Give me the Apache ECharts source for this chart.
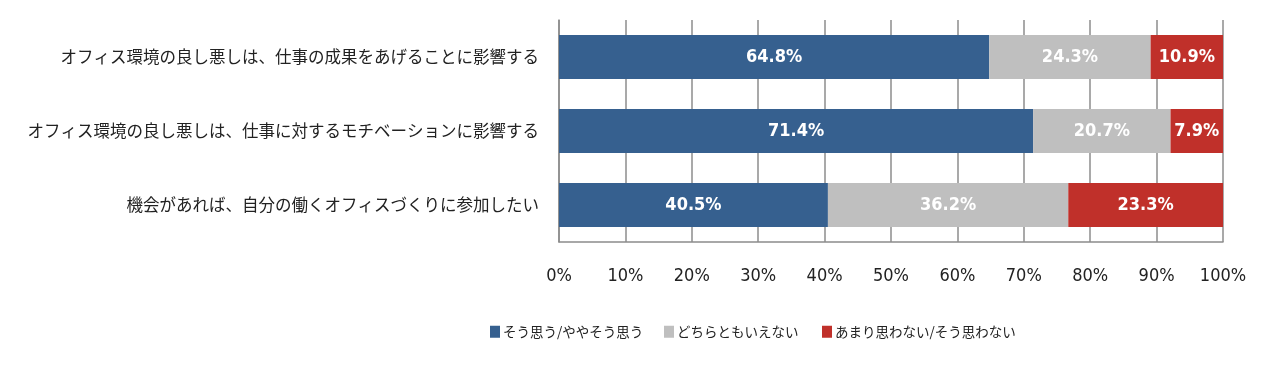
<!DOCTYPE html>
<html><head><meta charset="utf-8">
<script src="https://cdn.jsdelivr.net/npm/echarts@6/dist/echarts.min.js"></script>
<style>html,body{margin:0;padding:0;background:#fff;}#c{width:1280px;height:367px;}</style>
</head><body><div id="c"></div>
<script>
const categories = [
  "オフィス環境の良し悪しは、仕事の成果をあげることに影響する",
  "オフィス環境の良し悪しは、仕事に対するモチベーションに影響する",
  "機会があれば、自分の働くオフィスづくりに参加したい"
];
const seriesNames = ["そう思う/ややそう思う", "どちらともいえない", "あまり思わない/そう思わない"];
const agree = [64.8, 71.4, 40.5];
const neutral = [24.3, 20.7, 36.2];
const disagree = [10.9, 7.9, 23.3];
const colors = ["#36608f", "#bfbfbf", "#c0302a"];
const font = "'Noto Sans CJK JP', sans-serif";
const narrow = "'Liberation Sans Narrow', 'DejaVu Sans Condensed', sans-serif";

const chart = echarts.init(document.getElementById('c'), null, {renderer: 'canvas'});
function mk(name, data, color) {
  return {
    name: name, type: 'bar', stack: 'total', data: data, barWidth: 44,
    itemStyle: {color: color},
    label: {show: true, position: 'inside', formatter: p => p.value.toFixed(1) + '%',
      color: '#fff', fontFamily: narrow, fontWeight: 'bold', fontSize: 18}
  };
}
const legendLefts = [490, 664, 822];
chart.setOption({
  animation: false,
  textStyle: {fontFamily: font},
  grid: {left: 559, right: 57, top: 20, bottom: 125},
  legend: seriesNames.map((n, i) => ({
    left: legendLefts[i], top: 325, padding: 0, itemWidth: 10, itemHeight: 12,
    icon: 'rect',
    textStyle: {fontFamily: font, fontSize: 13.5, color: '#222', padding: [0, 0, 0, -2]},
    data: [n]
  })),
  xAxis: {
    type: 'value', min: 0, max: 100, interval: 10,
    axisLabel: {formatter: '{value}%', fontSize: 18, color: '#222', margin: 25, fontFamily: narrow},
    splitLine: {show: true, lineStyle: {color: '#8c8c8c', width: 1.5}},
    axisLine: {show: true, lineStyle: {color: '#8c8c8c', width: 1.5}},
    axisTick: {show: false}
  },
  yAxis: {
    type: 'category', data: categories, inverse: true,
    axisLabel: {fontSize: 16.5, color: '#222', margin: 20, fontFamily: font},
    axisLine: {show: true, lineStyle: {color: '#8c8c8c', width: 1.5}},
    axisTick: {show: false}
  },
  series: [mk(seriesNames[0], agree, colors[0]), mk(seriesNames[1], neutral, colors[1]), mk(seriesNames[2], disagree, colors[2])]
});
</script></body></html>
